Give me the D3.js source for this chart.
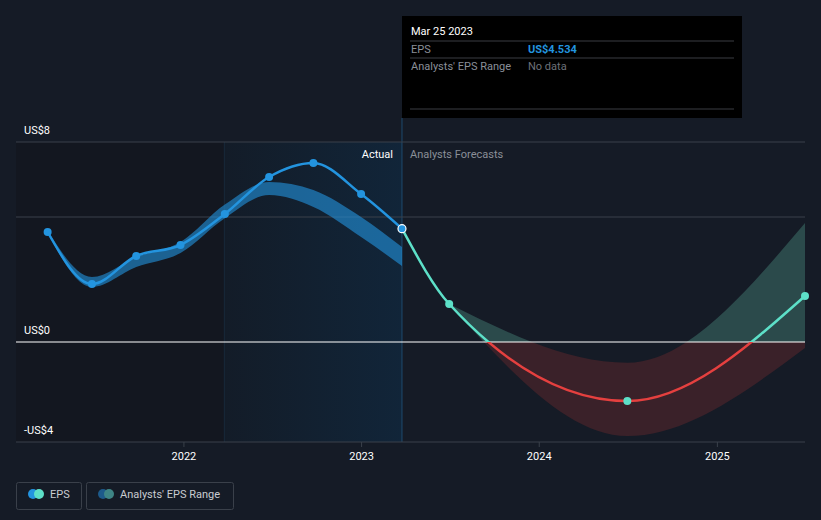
<html>
<head>
<style>
  body { margin: 0; background: #151b26; font-family: Roboto, "Open Sans", sans-serif; }
  svg { display: block; }
</style>
<script src="https://cdn.jsdelivr.net/npm/d3@7"></script>
</head>
<body>
<svg id="chart"></svg>
<script>
// EPS history (reported)
const epsDates = ["2021-03-27","2021-06-26","2021-09-25","2021-12-25","2022-03-26","2022-06-25","2022-09-24","2022-12-31","2023-03-25"]
const epsValues = [4.4, 2.32, 3.44, 3.88, 5.12, 6.6, 7.16, 5.92, 4.534]
// past analyst range band
const pastLow = [4.35, 2.2, 3.0, 3.56, 4.95, 5.88, 5.4, 4.2, 3.04]
const pastHigh = [4.45, 2.6, 3.4, 4.0, 5.5, 6.4, 6.08, 5.0, 3.8]
// forecasts
const fcDates = ["2023-03-25","2023-06-30","2024-06-30","2025-06-30"]
const fcValues = [4.534, 1.52, -2.36, 1.84]
const rangeDates = ["2023-06-30","2024-06-30","2025-06-30"]
const rangeLow = [1.52, -3.76, -0.24]
const rangeHigh = [1.52, -0.83, 4.76]
const yTicks = [8, 0, -4]
const yLabels = ["US$8", "US$0", "-US$4"]
const xTicks = ["2022","2023","2024","2025"]

const width = 821, height = 520
const parse = d3.timeParse("%Y-%m-%d")
const svg = d3.select("#chart").attr("width", width).attr("height", height)

const x = d3.scaleTime()
  .domain([parse("2021-01-21"), parse("2025-06-30")])
  .range([16, 805])
const y = d3.scaleLinear().domain([-4, 8]).range([442, 142])

const today = parse("2023-03-25")
const hlStart = parse("2022-03-25")

let defs = svg.append("defs")
let grad = defs.append("linearGradient").attr("id", "hl")
grad.append("stop").attr("offset", "0%").attr("stop-color", "#131c28")
grad.append("stop").attr("offset", "100%").attr("stop-color", "#112539")

defs.append("clipPath").attr("id", "above").append("rect")
  .attr("x", 0).attr("y", 0).attr("width", width).attr("height", y(0))
defs.append("clipPath").attr("id", "below").append("rect")
  .attr("x", 0).attr("y", y(0)).attr("width", width).attr("height", height - y(0))

// background regions
svg.append("rect").attr("x", 16).attr("y", 142).attr("width", x(hlStart) - 16)
  .attr("height", 300).attr("fill", "#131720")
svg.append("rect").attr("x", x(hlStart)).attr("y", 142).attr("width", x(today) - x(hlStart))
  .attr("height", 300).attr("fill", "url(#hl)")
svg.append("line").attr("x1", x(hlStart)).attr("x2", x(hlStart)).attr("y1", 142).attr("y2", 442)
  .attr("stroke", "#18293a")
svg.append("line").attr("x1", x(today)).attr("x2", x(today)).attr("y1", 118).attr("y2", 442)
  .attr("stroke", "#1d4a6e")

// gridlines
for (let v of [8, 5]) {
  svg.append("line").attr("x1", 16).attr("x2", 805).attr("y1", y(v)).attr("y2", y(v))
    .attr("stroke", "#3a404a")
}
svg.append("line").attr("x1", 16).attr("x2", 805).attr("y1", 442).attr("y2", 442)
  .attr("stroke", "#3a404a")

// y labels
yTicks.forEach((v, i) => {
  svg.append("text").attr("x", 24).attr("y", y(v) - 8).text(yLabels[i])
    .attr("fill", "#ffffff").attr("font-size", 11)
})

// x axis ticks
xTicks.forEach(t => {
  let xx = x(parse(t + "-01-01"))
  svg.append("line").attr("x1", xx).attr("x2", xx).attr("y1", 442).attr("y2", 447).attr("stroke", "#3a404a")
  svg.append("text").attr("x", xx).attr("y", 460).attr("text-anchor", "middle")
    .attr("fill", "#ffffff").attr("font-size", 11).text(t)
})

// past band
let pastBand = epsDates.map((d, i) => ({ d: parse(d), lo: pastLow[i], hi: pastHigh[i] }))
let area = d3.area().x(d => x(d.d)).y0(d => y(d.lo)).y1(d => y(d.hi)).curve(d3.curveMonotoneX)
svg.append("path").attr("d", area(pastBand)).attr("fill", "#2394df").attr("opacity", 0.6)

// forecast band
let fcBand = rangeDates.map((d, i) => ({ d: parse(d), lo: rangeLow[i], hi: rangeHigh[i] }))
svg.append("path").attr("d", area(fcBand)).attr("fill", "#2b4a4b").attr("clip-path", "url(#above)")
svg.append("path").attr("d", area(fcBand)).attr("fill", "#3a2129").attr("clip-path", "url(#below)")

// zero line
svg.append("line").attr("x1", 16).attr("x2", 805).attr("y1", y(0)).attr("y2", y(0))
  .attr("stroke", "#ffffff").attr("stroke-width", 1.2)

let line = d3.line().x(d => x(d.d)).y(d => y(d.v)).curve(d3.curveMonotoneX)

// forecast line
let fc = fcDates.map((d, i) => ({ d: parse(d), v: fcValues[i] }))
svg.append("path").attr("d", line(fc)).attr("fill", "none").attr("stroke", "#5de0c8")
  .attr("stroke-width", 2.5).attr("clip-path", "url(#above)")
svg.append("path").attr("d", line(fc)).attr("fill", "none").attr("stroke", "#e5403f")
  .attr("stroke-width", 2.5).attr("clip-path", "url(#below)")
svg.selectAll(".fcdot").data(fc.slice(1)).enter().append("circle")
  .attr("cx", d => x(d.d)).attr("cy", d => y(d.v)).attr("r", 4).attr("fill", "#5de0c8")

// eps line
let eps = epsDates.map((d, i) => ({ d: parse(d), v: epsValues[i] }))
svg.append("path").attr("d", line(eps)).attr("fill", "none").attr("stroke", "#2394df")
  .attr("stroke-width", 2.5)
svg.selectAll(".epsdot").data(eps.slice(0, -1)).enter().append("circle")
  .attr("cx", d => x(d.d)).attr("cy", d => y(d.v)).attr("r", 4).attr("fill", "#2394df")
let last = eps[eps.length - 1]
svg.append("circle").attr("cx", x(last.d)).attr("cy", y(last.v)).attr("r", 4)
  .attr("fill", "#2394df").attr("stroke", "#ffffff").attr("stroke-width", 1.2)

// region labels
svg.append("text").attr("x", x(today) - 9).attr("y", 158).attr("text-anchor", "end")
  .attr("fill", "#ffffff").attr("font-size", 11).text("Actual")
svg.append("text").attr("x", x(today) + 8).attr("y", 158)
  .attr("fill", "#8a8f98").attr("font-size", 11).text("Analysts Forecasts")

// tooltip
let tip = svg.append("g")
tip.append("rect").attr("x", 402).attr("y", 16).attr("width", 340).attr("height", 102).attr("fill", "#000000")
tip.append("text").attr("x", 411).attr("y", 35).attr("fill", "#ffffff").attr("font-size", 11).text("Mar 25 2023")
for (let ly of [41, 58, 109]) {
  tip.append("line").attr("x1", 410).attr("x2", 734).attr("y1", ly).attr("y2", ly).attr("stroke", "#3a3d42")
}
tip.append("text").attr("x", 411).attr("y", 53).attr("fill", "#8a8f98").attr("font-size", 11).text("EPS")
tip.append("text").attr("x", 528).attr("y", 53).attr("fill", "#2394df").attr("font-size", 11)
  .attr("font-weight", "bold").text("US$" + last.v)
tip.append("text").attr("x", 411).attr("y", 70).attr("fill", "#8a8f98").attr("font-size", 11).text("Analysts' EPS Range")
tip.append("text").attr("x", 528).attr("y", 70).attr("fill", "#6d7179").attr("font-size", 11).text("No data")

// legend
let leg1 = svg.append("g")
leg1.append("rect").attr("x", 16.5).attr("y", 482.5).attr("width", 65).attr("height", 27).attr("rx", 2)
  .attr("fill", "none").attr("stroke", "#3a404a")
leg1.append("circle").attr("cx", 33).attr("cy", 494).attr("r", 5).attr("fill", "#2394df")
leg1.append("circle").attr("cx", 39).attr("cy", 494).attr("r", 5).attr("fill", "#5de0c8")
leg1.append("text").attr("x", 50).attr("y", 498).attr("fill", "#c9ccd1").attr("font-size", 11).text("EPS")

let leg2 = svg.append("g")
leg2.append("rect").attr("x", 86.5).attr("y", 482.5).attr("width", 147).attr("height", 27).attr("rx", 2)
  .attr("fill", "none").attr("stroke", "#3a404a")
leg2.append("circle").attr("cx", 103).attr("cy", 494).attr("r", 5).attr("fill", "#1d5a8a")
leg2.append("circle").attr("cx", 109).attr("cy", 494).attr("r", 5).attr("fill", "#3e8585")
leg2.append("text").attr("x", 120).attr("y", 498).attr("fill", "#c9ccd1").attr("font-size", 11).text("Analysts' EPS Range")
</script>
</body>
</html>
